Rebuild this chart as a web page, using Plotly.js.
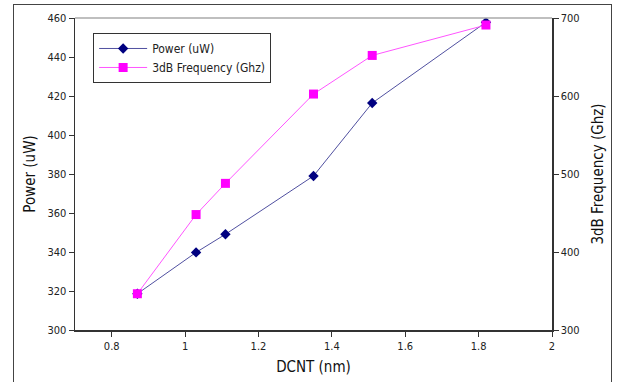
<!DOCTYPE html>
<html><head><meta charset="utf-8">
<script src="https://cdn.plot.ly/plotly-3.0.1.min.js"></script>
<style>
html,body{margin:0;padding:0;background:#fff;}
#wrap{position:relative;width:617px;height:382px;}
#chart{width:617px;height:382px;}
#frame{position:absolute;left:13px;top:4px;width:599px;height:400px;border:1px solid #444;box-sizing:border-box;pointer-events:none;}
</style>
</head><body>
<div id="wrap"><div id="chart"></div><div id="frame"></div></div>
<script>
const dcnt = [0.87, 1.03, 1.11, 1.35, 1.51, 1.82];
const power = [318.6, 339.8, 349.1, 379.0, 416.4, 457.8];
const freq = [346.5, 448.0, 488.0, 602.5, 652.0, 691.0];
const xTicks = [0.8, 1, 1.2, 1.4, 1.6, 1.8, 2];
const yTicks = [300, 320, 340, 360, 380, 400, 420, 440, 460];
const y2Ticks = [300, 400, 500, 600, 700];

const F = '"DejaVu Sans Condensed", "DejaVu Sans", sans-serif';
const traces = [
  {x: dcnt, y: power, name: 'Power (uW)', type: 'scatter', mode: 'lines+markers',
   line: {color: '#5050a0', width: 1}, marker: {symbol: 'diamond', color: '#000080', size: 8}},
  {x: dcnt, y: freq, name: '3dB Frequency (Ghz)', type: 'scatter', mode: 'lines+markers', yaxis: 'y2',
   line: {color: '#ff55ff', width: 1}, marker: {symbol: 'square', color: '#ff00ff', size: 9}}
];
const layout = {
  width: 617, height: 382,
  margin: {l: 75, r: 65, t: 18, b: 52},
  paper_bgcolor: '#fff', plot_bgcolor: '#fff',
  font: {family: F, size: 11, color: '#222'},
  showlegend: true,
  legend: {x: 0.038, y: 0.952, xanchor: 'left', yanchor: 'top', bordercolor: '#333', borderwidth: 1,
    bgcolor: '#fff', font: {family: F, size: 12, color: '#222'}, tracegroupgap: 0, itemwidth: 48},
  xaxis: {range: [0.7, 2], tickvals: xTicks, ticktext: xTicks.map(String), showgrid: false, zeroline: false,
    showline: true, linecolor: '#333', linewidth: 1.5, ticks: 'outside', ticklen: 5, tickcolor: '#333',
    mirror: false, title: {text: 'DCNT (nm)', font: {family: F, size: 15, color: '#111'}, standoff: 10}},
  yaxis: {range: [300, 460], tickvals: yTicks, showgrid: false, zeroline: false,
    showline: true, linecolor: '#333', linewidth: 1.5, ticks: 'outside', ticklen: 5, tickcolor: '#333',
    title: {text: 'Power (uW)', font: {family: F, size: 15, color: '#111'}, standoff: 8}},
  yaxis2: {range: [300, 700], tickvals: y2Ticks, overlaying: 'y', side: 'right', showgrid: false, zeroline: false,
    showline: true, linecolor: '#333', linewidth: 1.5, ticks: 'outside', ticklen: 5, tickcolor: '#333',
    title: {text: '3dB Frequency (Ghz)', font: {family: F, size: 15, color: '#111'}, standoff: 14}},
  shapes: [{type: 'line', xref: 'paper', yref: 'paper', x0: 0, x1: 1, y0: 1, y1: 1, line: {color: '#aaa', width: 1.5}}]
};
Plotly.newPlot('chart', traces, layout, {displayModeBar: false, staticPlot: true});
</script>
</body></html>
